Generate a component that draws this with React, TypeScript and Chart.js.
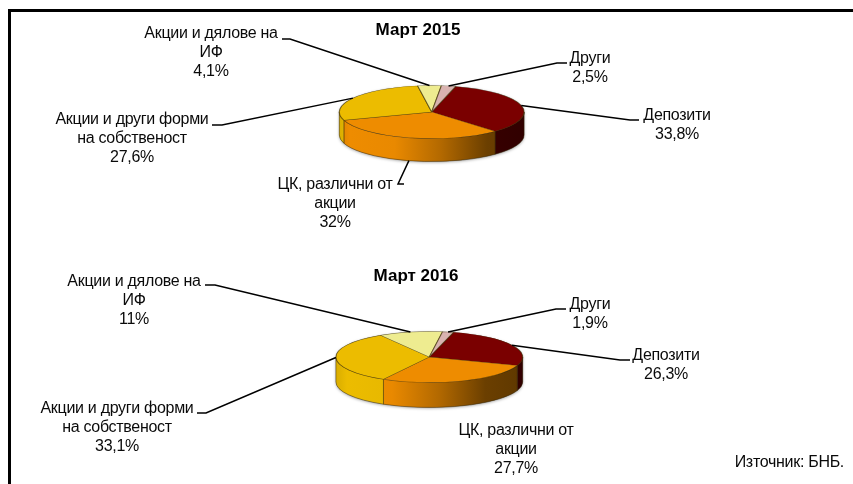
import React, { useEffect, useRef } from "react";
import { Chart, registerables } from "chart.js";

Chart.register(...registerables);

const categories = ["Депозити", "ЦК, различни от акции", "Акции и други форми на собственост", "Акции и дялове на ИФ", "Други"];
const values2015 = [33.8, 32, 27.6, 4.1, 2.5];
const values2016 = [26.3, 27.7, 33.1, 11, 1.9];
const sliceColors = ["#7a0000", "#ee8c00", "#ecbc00", "#eeec90", "#d9b3b0"];
const labelLines2015 = [["Депозити"], ["ЦК, различни от", "акции"], ["Акции и други форми", "на собственост"], ["Акции и дялове на", "ИФ"], ["Други"]];
const labelLines2016 = labelLines2015;
const FONT = '16px "Liberation Sans", Arial, sans-serif';
const BOLD = 'bold 17px "Liberation Sans", Arial, sans-serif';
const TRACKING = "-0.3px";

type Spec = {
  title: string; titleX: number; titleY: number;
  values: number[]; lines: string[][];
  cx: number; cy: number; rx: number; ry: number; depth: number;
  labelPos: [number, number][];
  leaders: ([[number, number], [number, number]] | null)[];
};

const spec2015: Spec = {
  title: "Март 2015", titleX: 418, titleY: 30, values: values2015, lines: labelLines2015,
  cx: 431.7, cy: 112, rx: 93, ry: 26.5, depth: 23,
  labelPos: [[677, 116], [335, 185], [132, 120], [211, 34], [590, 59]],
  leaders: [
    [[639, 120], [630, 120]],
    [[404, 184], [398, 184]],
    [[212, 125], [222, 125]],
    [[282, 39], [290, 39]],
    [[567, 63], [557, 63]],
  ],
};
const spec2016: Spec = {
  title: "Март 2016", titleX: 416, titleY: 276, values: values2016, lines: labelLines2016,
  cx: 429.3, cy: 357, rx: 94, ry: 25.5, depth: 25,
  labelPos: [[666, 356], [516, 431], [117, 409], [134, 282], [590, 305]],
  leaders: [
    [[630, 360], [620, 360]],
    null,
    [[197, 413], [206, 413]],
    [[205, 285], [215, 285]],
    [[566, 309], [556, 309]],
  ],
};

function shade(hex: string, f: number) {
  const n = parseInt(hex.slice(1), 16);
  const c = [(n >> 16) & 255, (n >> 8) & 255, n & 255].map((v) => Math.round(v * f));
  return `rgb(${c[0]},${c[1]},${c[2]})`;
}
const LIGHT: [number, number][] = [[0, 0.92], [0.06, 1], [0.3, 0.98], [0.55, 0.75], [0.8, 0.45], [1, 0.4]];

function pct(v: number) {
  return String(v).replace(".", ",") + "%";
}

function pie3d(spec: Spec) {
  return {
    id: "pie3d",
    beforeDatasetsDraw(chart: any) {
      const ctx: CanvasRenderingContext2D = chart.ctx;
      const arcs = chart.getDatasetMeta(0).data;
      const { x: cx, y: cy, outerRadius: rx } = arcs[0];
      const ry = spec.ry, d = spec.depth;
      ctx.save();
      ctx.shadowColor = "rgba(0,0,0,0.35)";
      ctx.shadowBlur = 3;
      ctx.shadowOffsetY = 1;
      ctx.fillStyle = "#888";
      ctx.beginPath();
      ctx.ellipse(cx, cy, rx, ry, 0, Math.PI, 0);
      ctx.ellipse(cx, cy + d, rx, ry, 0, 0, Math.PI);
      ctx.closePath();
      ctx.fill();
      ctx.restore();
      arcs.forEach((arc: any, i: number) => {
        for (const off of [-2 * Math.PI, 0, 2 * Math.PI]) {
          const a0 = Math.max(arc.startAngle + off, 0);
          const a1 = Math.min(arc.endAngle + off, Math.PI);
          if (a1 <= a0) continue;
          const g = ctx.createLinearGradient(cx - rx, 0, cx + rx, 0);
          LIGHT.forEach(([p, f]) => g.addColorStop(p, shade(sliceColors[i], f)));
          ctx.beginPath();
          ctx.ellipse(cx, cy, rx, ry, 0, a0, a1);
          ctx.ellipse(cx, cy + d, rx, ry, 0, a1, a0, true);
          ctx.closePath();
          ctx.fillStyle = g;
          ctx.fill();
          ctx.strokeStyle = "rgba(50,35,0,0.55)";
          ctx.lineWidth = 0.8;
          ctx.stroke();
        }
      });
    },
    beforeDatasetDraw(chart: any) {
      const ctx = chart.ctx;
      const arc = chart.getDatasetMeta(0).data[0];
      ctx.save();
      ctx.translate(arc.x, arc.y);
      ctx.scale(1, spec.ry / arc.outerRadius);
      ctx.translate(-arc.x, -arc.y);
    },
    afterDatasetDraw(chart: any) {
      chart.ctx.restore();
    },
    afterDatasetsDraw(chart: any) {
      const ctx: CanvasRenderingContext2D = chart.ctx;
      const arcs = chart.getDatasetMeta(0).data;
      ctx.save();
      ctx.strokeStyle = "#000";
      ctx.lineWidth = 1.5;
      arcs.forEach((arc: any, i: number) => {
        const leader = spec.leaders[i];
        if (!leader) return;
        const mid = (arc.startAngle + arc.endAngle) / 2;
        const sinA = Math.sin(mid);
        const px = arc.x + arc.outerRadius * Math.cos(mid);
        const py = arc.y + spec.ry * sinA + (sinA > 0.5 ? spec.depth : 0);
        ctx.beginPath();
        ctx.moveTo(leader[0][0], leader[0][1]);
        ctx.lineTo(leader[1][0], leader[1][1]);
        ctx.lineTo(px, py);
        ctx.stroke();
      });
      ctx.fillStyle = "#0a0a0a";
      ctx.textAlign = "center";
      ctx.textBaseline = "middle";
      ctx.font = FONT;
      (ctx as any).letterSpacing = TRACKING;
      spec.lines.forEach((lines, i) => {
        const all = [...lines, pct(spec.values[i])];
        all.forEach((t, k) => ctx.fillText(t, spec.labelPos[i][0], spec.labelPos[i][1] + k * 19));
      });
      ctx.font = BOLD;
      (ctx as any).letterSpacing = "0px";
      ctx.fillStyle = "#000";
      ctx.fillText(spec.title, spec.titleX, spec.titleY);
      ctx.restore();
    },
  };
}

const W = 853, H = 484;

function makeChart(canvas: HTMLCanvasElement, spec: Spec) {
  return new Chart(canvas, {
    type: "pie",
    data: {
      labels: categories,
      datasets: [{
        data: spec.values,
        backgroundColor: sliceColors,
        borderColor: "rgba(60,45,0,0.6)",
        borderWidth: 1.2,
        clip: false,
      } as any],
    },
    options: {
      responsive: false,
      animation: false,
      events: [],
      rotation: 15,
      layout: {
        padding: {
          left: spec.cx - spec.rx,
          right: W - spec.cx - spec.rx,
          top: spec.cy - spec.rx,
          bottom: H - spec.cy - spec.rx,
        },
      },
      plugins: { legend: { display: false }, tooltip: { enabled: false }, title: { display: false } },
    } as any,
    plugins: [pie3d(spec)],
  });
}

export default function App() {
  const a = useRef<HTMLCanvasElement>(null);
  const b = useRef<HTMLCanvasElement>(null);
  useEffect(() => {
    document.body.style.margin = "0";
    const c1 = makeChart(a.current!, spec2015);
    const c2 = makeChart(b.current!, spec2016);
    return () => { c1.destroy(); c2.destroy(); };
  }, []);
  const abs: React.CSSProperties = { position: "absolute", left: 0, top: 0, width: W, height: H };
  return (
    <div style={{ position: "relative", width: W, height: H, overflow: "hidden", background: "#fff" }}>
      <div style={{ position: "absolute", left: 8, top: 9, width: 3, height: H, background: "#000" }} />
      <div style={{ position: "absolute", left: 8, top: 9, width: W, height: 3, background: "#000" }} />
      <canvas ref={a} width={W} height={H} style={abs} />
      <canvas ref={b} width={W} height={H} style={abs} />
      <div style={{ position: "absolute", right: 9, top: 453, font: FONT, letterSpacing: TRACKING, color: "#0a0a0a", whiteSpace: "nowrap" }}>Източник: БНБ.</div>
    </div>
  );
}
